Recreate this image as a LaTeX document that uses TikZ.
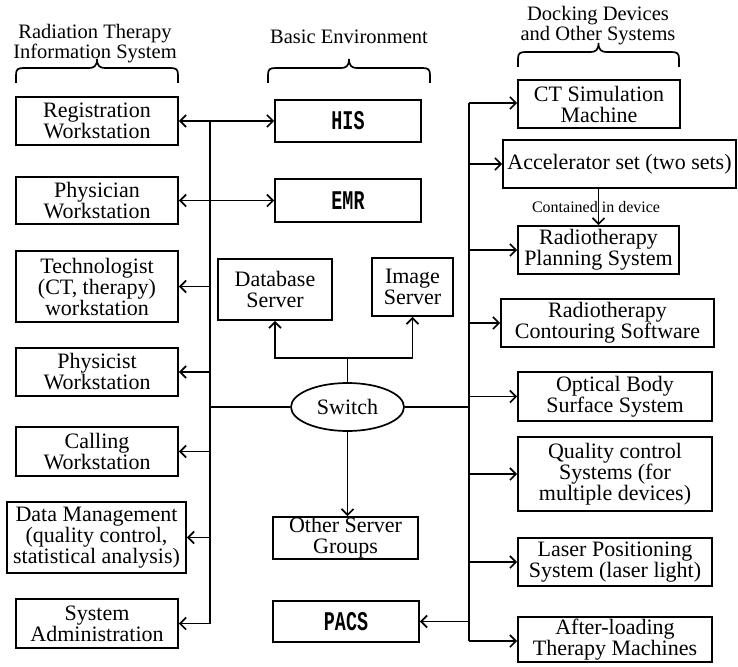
\documentclass[tikz,border=0pt]{standalone}
\usepackage{fontspec}
\setmainfont{Liberation Serif}
\newfontfamily\monof[FakeStretch=0.68]{Liberation Mono}
\usetikzlibrary{arrows.meta,shapes.geometric}
\begin{document}
\begin{tikzpicture}[x=1pt,y=-1pt, line width=1.7pt,
  box/.style={draw, rectangle, inner sep=0pt, align=center, font=\fontsize{22}{21}\selectfont},
  mbox/.style={draw, rectangle, inner sep=0pt, align=center, font=\monof\bfseries\fontsize{27}{27}\selectfont},
  hdr/.style={align=center, inner sep=0pt, font=\fontsize{20.5}{20}\selectfont},
  arr/.style={-{Straight Barb[length=6pt,width=12pt]}},
  darr/.style={{Straight Barb[length=6pt,width=12pt]}-{Straight Barb[length=6pt,width=12pt]}},
  brc/.style={line width=1.7pt},
]
\useasboundingbox (0,0) rectangle (738,666);

% headers
\node[hdr] (h1) at (95,44) {Radiation Therapy\\Information System};
\node[hdr] (h2) at (349,37) {Basic Environment};
\node[hdr] (h3) at (598,26) {Docking Devices\\and Other Systems};

% braces
\draw[brc] (16,83) -- (16,75) .. controls (16,69) and (18,68) .. (24,68) -- (89,68)
  .. controls (94,68) and (97,66) .. (97,59) .. controls (97,66) and (100,68) .. (105,68)
  -- (170,68) .. controls (176,68) and (178,69) .. (178,75) -- (178,83);
\draw[brc] (268,83) -- (268,75) .. controls (268,69) and (270,68) .. (276,68) -- (341,68)
  .. controls (346,68) and (349,66) .. (349,59) .. controls (349,66) and (352,68) .. (357,68)
  -- (422,68) .. controls (428,68) and (430,69) .. (430,75) -- (430,83);
\draw[brc] (518,67) -- (518,59) .. controls (518,53) and (520,52) .. (526,52) -- (590.5,52)
  .. controls (595.5,52) and (598.5,50) .. (598.5,43) .. controls (598.5,50) and (601.5,52) .. (606.5,52)
  -- (671,52) .. controls (677,52) and (679,53) .. (679,59) -- (679,67);

% left column
\node[box, minimum width=162pt, minimum height=48pt] (reg) at (97,121) {Registration\\Workstation};
\node[box, minimum width=162pt, minimum height=47pt] (phy) at (97,200.5) {Physician\\Workstation};
\node[box, minimum width=162pt, minimum height=71pt] (tec) at (97,286.5) {Technologist\\(CT, therapy)\\workstation};
\node[box, minimum width=162pt, minimum height=48pt] (pcs) at (97,372) {Physicist\\Workstation};
\node[box, minimum width=162pt, minimum height=49pt] (cal) at (97,451.5) {Calling\\Workstation};
\node[box, minimum width=179pt, minimum height=71pt] (dat) at (96.5,537.5) {Data Management\\(quality control,\\statistical analysis)};
\node[box, minimum width=162pt, minimum height=49pt] (sys) at (97,623.5) {System\\Administration};

% middle column
\node[mbox, minimum width=146pt, minimum height=42pt] (his) at (348,121) {HIS};
\node[mbox, minimum width=146pt, minimum height=43pt] (emr) at (348,200.5) {EMR};
\node[box, minimum width=114pt, minimum height=61pt] (db) at (275,289.5) {Database\\Server};
\node[box, minimum width=81pt, minimum height=58pt] (img) at (412.5,287) {Image\\Server};
\node[draw, ellipse, inner sep=0pt, minimum width=113pt, minimum height=48pt, font=\fontsize{22}{21}\selectfont] (sw) at (347.5,407) {Switch};
\node[box, minimum width=145pt, minimum height=42pt] (oth) at (345.5,538) {Other Server\\Groups};
\node[mbox, minimum width=146pt, minimum height=41pt] (pac) at (346,621.5) {PACS};

% right column
\node[box, minimum width=162pt, minimum height=48pt] (ct) at (599,104) {CT Simulation\\Machine};
\node[box, minimum width=233pt, minimum height=48pt] (acc) at (619.5,164) {Accelerator set (two sets)};
\node[box, minimum width=161pt, minimum height=48pt] (pln) at (598.5,250) {Radiotherapy\\Planning System};
\node[box, minimum width=213pt, minimum height=48pt] (con) at (607.5,323) {Radiotherapy\\Contouring Software};
\node[box, minimum width=194pt, minimum height=49pt] (opt) at (615,396.5) {Optical Body\\Surface System};
\node[box, minimum width=194pt, minimum height=74pt] (qc) at (615,474) {Quality control\\Systems (for\\multiple devices)};
\node[box, minimum width=194pt, minimum height=48pt] (las) at (615,562) {Laser Positioning\\System (laser light)};
\node[box, minimum width=194pt, minimum height=45pt] (aft) at (615,639.5) {After-loading\\Therapy Machines};

% bus coordinates
\coordinate (lb) at (210,0);
\coordinate (rb) at (469,0);
\coordinate (j) at (347.5,358);

% left bus
\draw (reg.east -| lb) -- (sys.east -| lb);
\draw[darr] (reg.east) -- (his.west);
\draw[darr] (phy.east) -- (emr.west);
\draw[arr] (tec.east -| lb) -- (tec.east);
\draw[arr] (pcs.east -| lb) -- (pcs.east);
\draw[arr] (cal.east -| lb) -- (cal.east);
\draw[arr] (dat.east -| lb) -- (dat.east);
\draw[arr] (sys.east -| lb) -- (sys.east);

% switch
\draw (sw.west) -- (sw.west -| lb);
\draw (sw.east) -- (sw.east -| rb);
\draw (sw.north) -- (j);
\draw[arr] (j) -| (db.south);
\draw[arr] (j) -| (img.south);
\draw[arr] (sw.south) -- (sw.south |- oth.north);

% right bus
\coordinate (rtop) at (469,103);
\coordinate (rbot) at (469,641);
\draw (rtop) -- (rbot);
\draw[arr] (rtop) -- (rtop -| ct.west);
\draw[arr] (acc.west -| rb) -- (acc.west);
\draw[arr] (pln.west -| rb) -- (pln.west);
\draw[arr] (con.west -| rb) -- (con.west);
\draw[arr] (opt.west -| rb) -- (opt.west);
\draw[arr] (qc.west -| rb) -- (qc.west);
\draw[arr] (las.west -| rb) -- (las.west);
\draw[arr] (rbot) -- (rbot -| aft.west);
\draw[arr] (pac.east -| rb) -- (pac.east);

% contained
\draw[arr] (pln.north |- acc.south) -- (pln.north);
\node[inner sep=0pt, font=\fontsize{16}{16}\selectfont] (lbl) at (596,207) {Contained in device};
\end{tikzpicture}
\end{document}
